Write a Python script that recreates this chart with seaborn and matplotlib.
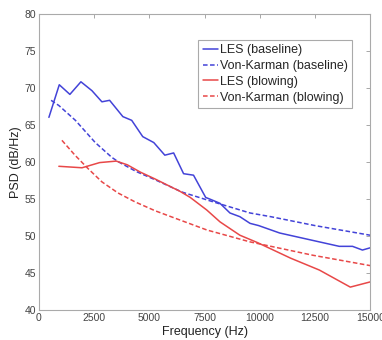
import matplotlib
matplotlib.use("Agg")
import matplotlib.pyplot as plt
import seaborn as sns
import pandas as pd

sns.set_style("white")
plt.rcParams['font.family'] = ['Liberation Sans', 'DejaVu Sans']

# LES (baseline)
les_base_f = [450, 920, 1400, 1900, 2400, 2850, 3200, 3800, 4200, 4700, 5200, 5700, 6100, 6550,
              7000, 7550, 7800, 8200, 8650, 9100, 9560, 9950, 10900, 12400, 13600, 14200, 14650, 15000]
les_base_v = [66.0, 70.4, 69.1, 70.8, 69.6, 68.1, 68.3, 66.1, 65.6, 63.4, 62.6, 60.9, 61.2, 58.4,
              58.2, 55.2, 54.9, 54.4, 53.1, 52.6, 51.7, 51.4, 50.4, 49.4, 48.6, 48.6, 48.1, 48.4]
# Von-Karman (baseline)
vk_base_f = [550, 900, 1650, 2550, 3300, 3600, 4400, 5250, 6500, 8000, 9560, 10500, 12500, 15000]
vk_base_v = [68.3, 67.6, 65.6, 62.6, 60.6, 60.0, 58.7, 57.6, 55.9, 54.5, 53.1, 52.6, 51.4, 50.1]
# LES (blowing)
les_blow_f = [900, 1950, 2750, 3500, 4000, 4600, 5250, 6400, 6850, 7600, 8200, 9100, 9900, 11400, 12700, 14100, 15000]
les_blow_v = [59.4, 59.2, 59.9, 60.1, 59.6, 58.6, 57.7, 56.0, 55.2, 53.5, 51.9, 50.1, 49.1, 47.0, 45.4, 43.1, 43.8]
# Von-Karman (blowing)
vk_blow_f = [1040, 1630, 2220, 2850, 3580, 4350, 5260, 6070, 7610, 9560, 12400, 15000]
vk_blow_v = [62.9, 60.9, 59.1, 57.3, 55.8, 54.6, 53.4, 52.5, 50.8, 49.2, 47.4, 46.0]

series = [
    ("LES (baseline)", les_base_f, les_base_v, "#4343d8", None),
    ("Von-Karman (baseline)", vk_base_f, vk_base_v, "#4343d8", (3, 1.6)),
    ("LES (blowing)", les_blow_f, les_blow_v, "#e84848", None),
    ("Von-Karman (blowing)", vk_blow_f, vk_blow_v, "#e84848", (3, 1.6)),
]

fig = plt.figure(figsize=(3.82, 3.40), dpi=100)
ax = fig.add_axes([0.102, 0.088, 0.867, 0.872])

for name, f, v, c, dash in series:
    df = pd.DataFrame({"f": f, "v": v})
    sns.lineplot(data=df, x="f", y="v", ax=ax, color=c, linewidth=1.1,
                 label=name, estimator=None, sort=False)
    if dash is not None:
        ax.lines[-1].set_dashes(dash)

ax.set_xlim(0, 15000)
ax.set_ylim(40, 80)
ax.set_xticks([0, 2500, 5000, 7500, 10000, 12500, 15000])
ax.set_yticks([40, 45, 50, 55, 60, 65, 70, 75, 80])
ax.set_xlabel("Frequency (Hz)", fontsize=9, color="#222222", labelpad=2)
ax.set_ylabel("PSD (dB/Hz)", fontsize=9, color="#222222", labelpad=2)
ax.tick_params(direction="in", length=3, width=0.6, colors="#999999", labelsize=7.5,
               labelcolor="#444444", top=True, right=True, pad=2)
for s in ax.spines.values():
    s.set_color("#aaaaaa")
    s.set_linewidth(0.8)

leg = ax.legend(loc="upper right", bbox_to_anchor=(0.946, 0.911), borderaxespad=0,
                fontsize=9, handlelength=1.2, handletextpad=0.2, borderpad=0.35,
                labelspacing=0.3, fancybox=False, framealpha=1, edgecolor="#aaaaaa")
leg.get_frame().set_linewidth(0.8)

fig.savefig("out.png", dpi=100)
